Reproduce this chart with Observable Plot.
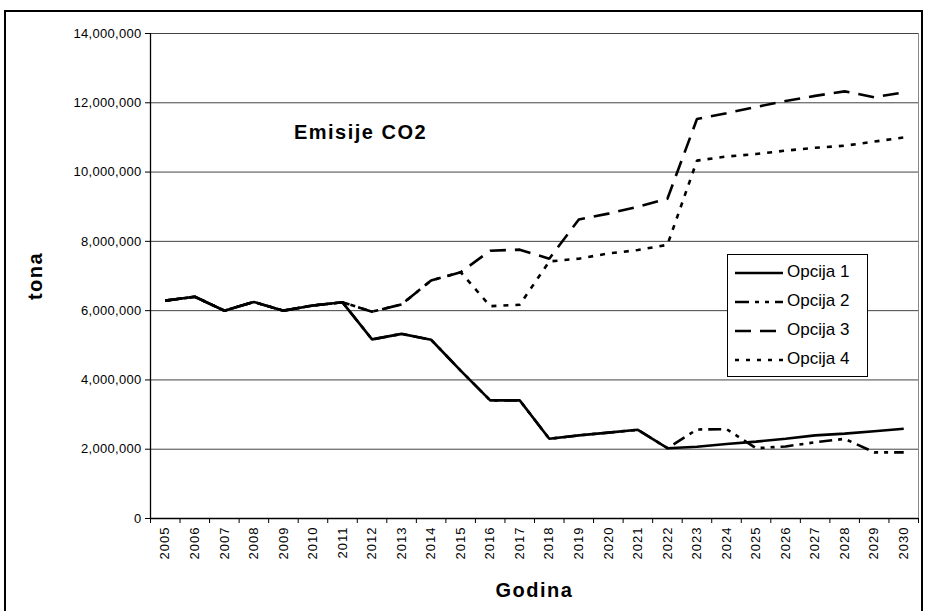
<!DOCTYPE html>
<html>
<head>
<meta charset="utf-8">
<script src="https://cdn.jsdelivr.net/npm/d3@7"></script>
<script src="https://cdn.jsdelivr.net/npm/@observablehq/plot@0.6"></script>
<style>
  html, body { margin: 0; padding: 0; background: #fff; }
  #wrap { position: relative; width: 925px; height: 611px; overflow: hidden; font-family: "Liberation Sans", Arial, sans-serif; }
  #outer { position: absolute; left: 4px; top: 10px; width: 915px; height: 640px; border: 2px solid #000; pointer-events: none; }
  #legend { position: absolute; left: 727px; top: 254px; width: 139px; height: 121px; border: 1px solid #000; background: #fff; }
  .row { position: absolute; left: 0; height: 24px; width: 139px; }
  .row svg { position: absolute; left: 7px; top: 0; }
  .row span { position: absolute; left: 59px; top: 1px; font-size: 17px; line-height: 20px; color: #000; }
  #chart g[aria-label="x-axis tick label"] text { letter-spacing: 1px; }
  #chart g[aria-label="y-axis tick label"] text { letter-spacing: 0.3px; }
  #chart g[aria-label="text"] text { letter-spacing: 1.5px; }
</style>
</head>
<body>
<div id="wrap">
  <div id="chart"></div>
  <div id="legend"></div>
  <div id="outer"></div>
</div>
<script>
const years = [2005,2006,2007,2008,2009,2010,2011,2012,2013,2014,2015,2016,2017,2018,2019,2020,2021,2022,2023,2024,2025,2026,2027,2028,2029,2030];
const opcija1 = [6290000,6400000,6000000,6250000,6000000,6150000,6240000,5170000,5330000,5160000,4270000,3410000,3410000,2300000,2400000,2480000,2560000,2030000,2070000,2150000,2220000,2300000,2400000,2450000,2520000,2590000];
const opcija2 = [6290000,6400000,6000000,6250000,6000000,6150000,6240000,5170000,5330000,5160000,4270000,3410000,3410000,2300000,2400000,2480000,2560000,2030000,2570000,2580000,2030000,2080000,2200000,2300000,1910000,1910000];
const opcija3 = [6290000,6400000,6000000,6250000,6000000,6150000,6240000,5970000,6180000,6870000,7110000,7730000,7760000,7500000,8630000,8800000,9000000,9230000,11530000,11700000,11880000,12050000,12200000,12330000,12160000,12300000];
const opcija4 = [6290000,6400000,6000000,6250000,6000000,6150000,6240000,5970000,6180000,6870000,7110000,6130000,6170000,7420000,7500000,7650000,7750000,7900000,10330000,10450000,10520000,10620000,10700000,10760000,10880000,11000000];
const seriesNames = ["Opcija 1","Opcija 2","Opcija 3","Opcija 4"];
const yTicks = [0,2000000,4000000,6000000,8000000,10000000,12000000,14000000];
const dashes = ["none","13,6,4,6,4,6","16,9","5,7"];

const allSeries = [opcija1, opcija2, opcija3, opcija4];
const rows = [];
seriesNames.forEach((name, i) => years.forEach((yr, j) => rows.push({name, year: yr, value: allSeries[i][j]})));
const bounds = years.map(y => y - 0.5).concat([years[years.length - 1] + 0.5]);

const lineMark = (name, i) => Plot.line(rows.filter(d => d.name === name), {
  x: "year", y: "value", stroke: "#000", strokeWidth: 2.6,
  strokeDasharray: dashes[i] === "none" ? null : dashes[i], strokeLinejoin: "miter", strokeLinecap: "butt"
});

const chart = Plot.plot({
  width: 925, height: 611,
  marginLeft: 150, marginRight: 7, marginTop: 33, marginBottom: 93,
  style: { fontFamily: "Liberation Sans, Arial, sans-serif", fontSize: "13px", color: "#000", background: "#fff" },
  x: { type: "linear", domain: [bounds[0], bounds[bounds.length - 1]] },
  y: { domain: [0, 14000000] },
  marks: [
    Plot.frame({ stroke: "#888" }),
    Plot.gridY(yTicks, { stroke: "#444", strokeOpacity: 1 }),
    Plot.ruleX([bounds[0]], { stroke: "#000", strokeWidth: 1.3 }),
    Plot.ruleY([0], { stroke: "#000", strokeWidth: 1.3 }),
    Plot.axisY(yTicks, { tickSize: 5, tickPadding: 4, tickFormat: d3.format(","), label: null, fontSize: 13 }),
    Plot.axisX(bounds, { tickSize: 5, tickFormat: () => "", label: null }),
    Plot.axisX(years, { tickSize: 0, tickRotate: -90, tickPadding: 8, tickFormat: d => String(d), label: null, fontSize: 13 }),
    lineMark("Opcija 4", 3),
    lineMark("Opcija 3", 2),
    lineMark("Opcija 2", 1),
    lineMark("Opcija 1", 0),
    Plot.text(["Emisije CO2"], { frameAnchor: "top-left", dx: 210, dy: 91, textAnchor: "middle", fontSize: 20, fontWeight: "bold", fill: "#000" }),
    Plot.text(["tona"], { frameAnchor: "left", dx: -115, rotate: -90, textAnchor: "middle", fontSize: 20, fontWeight: "bold", fill: "#000" }),
    Plot.text(["Godina"], { frameAnchor: "bottom", dy: 78, textAnchor: "middle", fontSize: 20, fontWeight: "bold", fill: "#000" })
  ]
});
document.getElementById("chart").appendChild(chart);

const legend = document.getElementById("legend");
seriesNames.forEach((name, i) => {
  const row = document.createElement("div");
  row.className = "row";
  row.style.top = (6 + i * 29) + "px";
  const dash = dashes[i] === "none" ? "" : `stroke-dasharray="${i === 1 ? "14,6,4,6,4,6" : i === 2 ? "16,9" : "4,7"}"`;
  row.innerHTML = `<svg width="50" height="24"><line x1="0" y1="12" x2="48" y2="12" stroke="#000" stroke-width="2.6" ${dash}/></svg><span>${name}</span>`;
  legend.appendChild(row);
});
</script>
</body>
</html>
